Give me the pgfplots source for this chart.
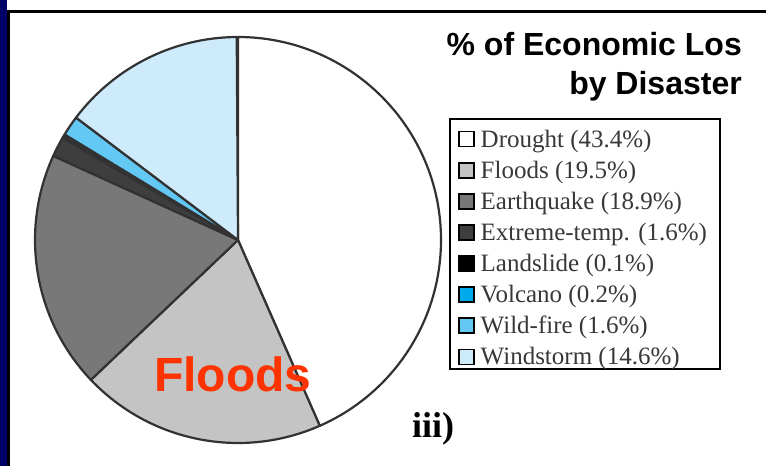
\documentclass[border=0pt]{standalone}
\usepackage{pgfplots}
\pgfplotsset{compat=1.18}
\usepackage{pgfplotstable}
\usepackage{fontspec}
\setmainfont{Liberation Serif}
\newfontfamily\headfont{Liberation Sans}

% slice colours
\definecolor{slice0}{RGB}{255,255,255}   % Drought
\definecolor{slice1}{RGB}{196,196,196}   % Floods
\definecolor{slice2}{RGB}{120,120,120}   % Earthquake
\definecolor{slice3}{RGB}{62,62,62}      % Extreme-temp.
\definecolor{slice4}{RGB}{0,0,0}         % Landslide
\definecolor{slice5}{RGB}{0,170,235}     % Volcano
\definecolor{slice6}{RGB}{100,200,245}   % Wild-fire
\definecolor{slice7}{RGB}{205,235,250}   % Windstorm
\definecolor{pieedge}{RGB}{50,50,50}
\definecolor{navyband}{RGB}{0,0,102}
\definecolor{floodred}{RGB}{255,51,0}

% share of economic loss by disaster type (percent)
\pgfplotstableread{
label pct
Drought 43.4
Floods 19.5
Earthquake 18.9
Extreme-temp. 1.6
Landslide 0.1
Volcano 0.2
Wild-fire 1.6
Windstorm 14.6
}\losstable

\newcommand\legimg[1]{\addlegendimage{legend image code/.code={%
  \draw[black,line width=1.5pt,fill=#1] (0pt,-7.5pt) rectangle (15pt,7.5pt);}}}

\begin{document}
\begin{tikzpicture}
\begin{axis}[
  scale only axis, width=766pt, height=466pt,
  xmin=0, xmax=766, ymin=0, ymax=466,
  hide axis, clip=false,
  legend style={at={(axis cs:458,342.5)}, anchor=north west,
    draw=none, fill=none, inner sep=0pt, row sep=0pt,
    font=\fontsize{25}{29}\selectfont, text=black!78,
    nodes={inner xsep=2pt, inner ysep=6.1pt},
    /tikz/every odd column/.append style={column sep=4pt}},
  legend cell align=left,
]
% page background and frame band
\fill[white] (axis cs:0,0) rectangle (axis cs:766,466);
\fill[navyband] (axis cs:0,0) rectangle (axis cs:7,466);
\fill[black] (axis cs:7,0) rectangle (axis cs:10,456);
\fill[black] (axis cs:7,453) rectangle (axis cs:766,456);

% pie wedges, clockwise from twelve o'clock
\pgfmathsetmacro\angA{90}
\pgfplotsforeachungrouped \k in {0,...,7}{%
  \pgfplotstablegetelem{\k}{pct}\of\losstable
  \pgfmathsetmacro\angB{\angA-3.6*\pgfplotsretval}%
  \edef\wedge{\noexpand\filldraw[fill=slice\k, draw=pieedge, line width=2.2pt, line join=round]
    (axis cs:238,226) -- ++(\angA:203pt) arc[start angle=\angA, end angle=\angB, radius=203pt] -- cycle;}%
  \wedge
  \global\let\angA\angB
}

% legend
\legimg{slice0}\addlegendentry{Drought (43.4\%)}
\legimg{slice1}\addlegendentry{Floods (19.5\%)}
\legimg{slice2}\addlegendentry{Earthquake (18.9\%)}
\legimg{slice3}\addlegendentry{Extreme-temp. (1.6\%)}
\legimg{slice4}\addlegendentry{Landslide (0.1\%)}
\legimg{slice5}\addlegendentry{Volcano (0.2\%)}
\legimg{slice6}\addlegendentry{Wild-fire (1.6\%)}
\legimg{slice7}\addlegendentry{Windstorm (14.6\%)}
\draw[black,line width=2.5pt] (axis cs:450,347) rectangle (axis cs:720,97);

% titles and labels
\node[anchor=base east, inner sep=0pt, font=\headfont\bfseries\fontsize{32}{38}\selectfont]
  at (axis cs:742,410) {\% of Economic Los};
\node[anchor=base east, inner sep=0pt, font=\headfont\bfseries\fontsize{32}{38}\selectfont]
  at (axis cs:742,371) {by Disaster};
\node[anchor=base west, inner sep=0pt, text=floodred, font=\headfont\bfseries\fontsize{48}{56}\selectfont]
  at (axis cs:154,74) {Floods};
\node[anchor=base west, inner sep=0pt, font=\bfseries\fontsize{36}{42}\selectfont]
  at (axis cs:412,28) {iii)};
\end{axis}
\end{tikzpicture}
\end{document}
